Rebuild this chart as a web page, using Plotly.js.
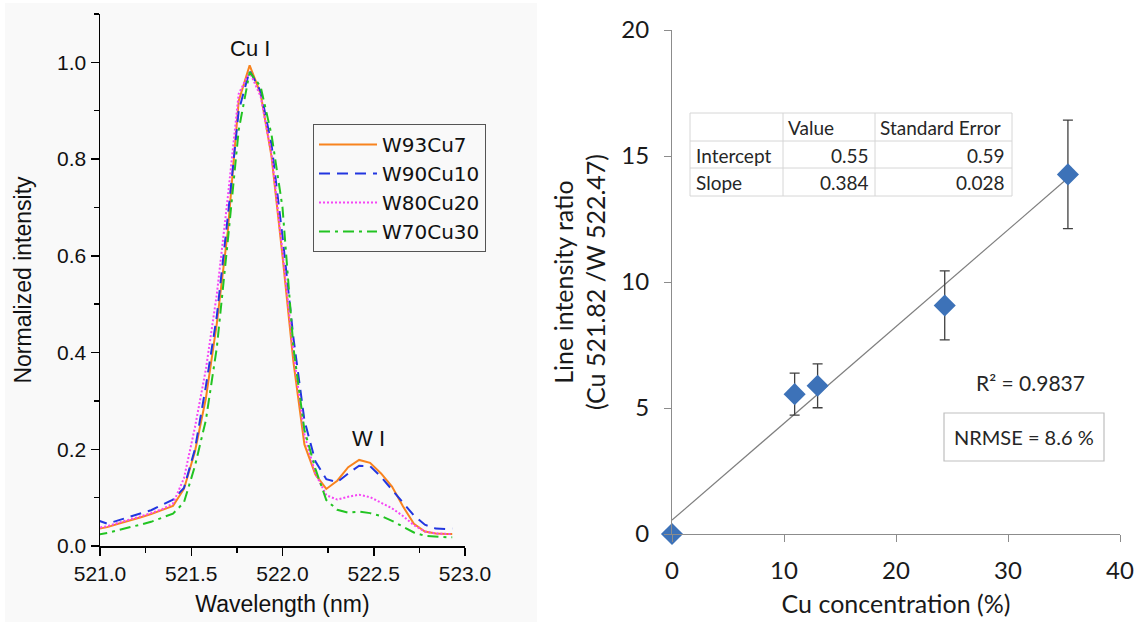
<!DOCTYPE html>
<html>
<head>
<meta charset="utf-8">
<script src="https://cdn.plot.ly/plotly-3.0.1.min.js"></script>
<style>html,body{margin:0;padding:0;background:#fff;}#chart{width:1138px;height:625px;}</style>
</head>
<body>
<div id="chart"></div>
<script>
// ---------- Left panel data (normalized spectra) ----------
const wavelength = [520.98, 521.04, 521.10, 521.16, 521.22, 521.28, 521.34, 521.40, 521.46, 521.52,
  521.58, 521.64, 521.70, 521.76, 521.82, 521.88, 521.94, 522.00, 522.06, 522.12,
  522.18, 522.24, 522.30, 522.36, 522.42, 522.48, 522.54, 522.60, 522.66, 522.72,
  522.78, 522.84, 522.90, 522.93];
const w93cu7 = [0.035, 0.039, 0.046, 0.052, 0.059, 0.066, 0.074, 0.083, 0.118, 0.195,
  0.305, 0.460, 0.650, 0.920, 0.994, 0.935, 0.805, 0.600, 0.380, 0.210,
  0.148, 0.118, 0.135, 0.163, 0.178, 0.172, 0.150, 0.123, 0.082, 0.046,
  0.030, 0.026, 0.025, 0.025];
const w90cu10 = [0.054, 0.046, 0.053, 0.060, 0.066, 0.074, 0.085, 0.096, 0.120, 0.200,
  0.330, 0.475, 0.680, 0.900, 0.983, 0.940, 0.830, 0.640, 0.430, 0.260,
  0.175, 0.138, 0.132, 0.150, 0.166, 0.165, 0.143, 0.117, 0.090, 0.063,
  0.044, 0.036, 0.035, 0.036];
const w80cu20 = [0.037, 0.041, 0.048, 0.054, 0.061, 0.068, 0.076, 0.088, 0.140, 0.245,
  0.365, 0.520, 0.720, 0.935, 0.980, 0.930, 0.810, 0.610, 0.400, 0.230,
  0.150, 0.105, 0.096, 0.102, 0.106, 0.101, 0.090, 0.078, 0.062, 0.043,
  0.030, 0.026, 0.025, 0.025];
const w70cu30 = [0.023, 0.027, 0.033, 0.038, 0.044, 0.050, 0.058, 0.067, 0.090, 0.165,
  0.260, 0.410, 0.630, 0.860, 0.980, 0.950, 0.850, 0.700, 0.410, 0.240,
  0.160, 0.095, 0.075, 0.069, 0.071, 0.068, 0.062, 0.052, 0.040, 0.028,
  0.021, 0.019, 0.018, 0.018];
const seriesNames = ['W93Cu7', 'W90Cu10', 'W80Cu20', 'W70Cu30'];
const peakLabels = ['Cu I', 'W I'];
const peakLabelX = [521.82, 522.47];
const peakLabelY = [1.0, 0.18];

// ---------- Right panel data (calibration) ----------
const cuConc = [0, 10.95, 13.0, 24.35, 35.35];
const ratio = [0, 5.55, 5.88, 9.07, 14.27];
const ratioErr = [0, 0.83, 0.87, 1.37, 2.15];
const fitParams = ['Intercept', 'Slope'];
const fitValue = [0.55, 0.384];
const fitStdErr = [0.59, 0.028];
const tableHeader = ['Value', 'Standard Error'];
const rSquared = 0.9837;
const nrmse = 8.6;

// ---------- helpers: pixel -> paper ----------
const W = 1138, H = 625;
const px = x => x / W;
const py = y => 1 - y / H;

const leftFont = 'Liberation Sans, Arial, sans-serif';
const legendFont = 'DejaVu Sans, sans-serif';
const rightFont = 'Lato, Open Sans, sans-serif';

const fitX = [Math.min(...cuConc), Math.max(...cuConc)];
const fitY = fitX.map(x => fitValue[0] + fitValue[1] * x);

const traces = [
  {x: wavelength, y: w93cu7, name: seriesNames[0], type: 'scatter', mode: 'lines', xaxis: 'x', yaxis: 'y',
   line: {color: '#f8831e', width: 2, dash: 'solid'}},
  {x: wavelength, y: w90cu10, name: seriesNames[1], type: 'scatter', mode: 'lines', xaxis: 'x', yaxis: 'y',
   line: {color: '#2236e0', width: 2, dash: '11px,7px'}},
  {x: wavelength, y: w80cu20, name: seriesNames[2], type: 'scatter', mode: 'lines', xaxis: 'x', yaxis: 'y',
   line: {color: '#f545f5', width: 2, dash: '2px,2px'}},
  {x: wavelength, y: w70cu30, name: seriesNames[3], type: 'scatter', mode: 'lines', xaxis: 'x', yaxis: 'y',
   line: {color: '#22c422', width: 2, dash: '11px,5px,3px,5px'}},
  {x: fitX, y: fitY, type: 'scatter', mode: 'lines', xaxis: 'x2', yaxis: 'y2', showlegend: false,
   line: {color: '#7f7f7f', width: 1.2}, hoverinfo: 'skip'},
  {x: cuConc, y: ratio, type: 'scatter', mode: 'markers', xaxis: 'x2', yaxis: 'y2', showlegend: false,
   cliponaxis: false,
   marker: {symbol: 'diamond', size: 17, color: '#3d72b8'},
   error_y: {type: 'data', array: ratioErr, visible: true, color: '#404040', thickness: 1.3, width: 5}}
];

const annotations = [];
peakLabels.forEach((t, i) => annotations.push({
  text: t, x: peakLabelX[i], y: peakLabelY[i], xref: 'x', yref: 'y', showarrow: false,
  yanchor: 'bottom', yshift: i === 0 ? -1 : 6, font: {family: leftFont, size: 22, color: '#111'}
}));

// table
const tL = 690, tR = 1012, tT = 113, tB = 196, r1 = 141, r2 = 168, c1 = 783, c2 = 875;
const rowY = [128, 155, 182];
const tfont = {family: rightFont, size: 19, color: '#262626'};
annotations.push({text: tableHeader[0], x: px(c1 + 3), y: py(rowY[0]), xref: 'paper', yref: 'paper', xanchor: 'left', yanchor: 'middle', showarrow: false, font: tfont});
annotations.push({text: tableHeader[1], x: px(c2 + 3), y: py(rowY[0]), xref: 'paper', yref: 'paper', xanchor: 'left', yanchor: 'middle', showarrow: false, font: tfont});
fitParams.forEach((p, i) => {
  annotations.push({text: p, x: px(tL + 4), y: py(rowY[i + 1]), xref: 'paper', yref: 'paper', xanchor: 'left', yanchor: 'middle', showarrow: false, font: tfont});
  annotations.push({text: String(fitValue[i]), x: px(c2 - 4), y: py(rowY[i + 1]), xref: 'paper', yref: 'paper', xanchor: 'right', yanchor: 'middle', showarrow: false, font: tfont});
  annotations.push({text: String(fitStdErr[i]), x: px(tR - 5), y: py(rowY[i + 1]), xref: 'paper', yref: 'paper', xanchor: 'right', yanchor: 'middle', showarrow: false, font: tfont});
});
annotations.push({text: 'R² = ' + rSquared, x: px(1030), y: py(382), xref: 'paper', yref: 'paper', xanchor: 'center', yanchor: 'middle', showarrow: false, font: {family: rightFont, size: 21, color: '#262626'}});
annotations.push({text: 'NRMSE = ' + nrmse + ' %', x: px(1024), y: py(437), xref: 'paper', yref: 'paper', xanchor: 'center', yanchor: 'middle', showarrow: false, font: {family: rightFont, size: 20, color: '#262626'}});

const gridLine = {color: '#d6d6d6', width: 1};
const shapes = [
  {type: 'rect', xref: 'paper', yref: 'paper', x0: px(5), x1: px(537), y0: py(622), y1: py(3), fillcolor: '#f9f9f9', line: {width: 0}, layer: 'below'},
  {type: 'rect', xref: 'paper', yref: 'paper', x0: px(tL), x1: px(tR), y0: py(tB), y1: py(tT), line: gridLine},
  {type: 'line', xref: 'paper', yref: 'paper', x0: px(tL), x1: px(tR), y0: py(r1), y1: py(r1), line: gridLine},
  {type: 'line', xref: 'paper', yref: 'paper', x0: px(tL), x1: px(tR), y0: py(r2), y1: py(r2), line: gridLine},
  {type: 'line', xref: 'paper', yref: 'paper', x0: px(c1), x1: px(c1), y0: py(tB), y1: py(tT), line: gridLine},
  {type: 'line', xref: 'paper', yref: 'paper', x0: px(c2), x1: px(c2), y0: py(tB), y1: py(tT), line: gridLine},
  {type: 'rect', xref: 'paper', yref: 'paper', x0: px(944), x1: px(1104), y0: py(461), y1: py(413), line: {color: '#bfbfbf', width: 1.2}}
];

const layout = {
  width: W, height: H,
  margin: {l: 0, r: 0, t: 0, b: 0},
  paper_bgcolor: '#ffffff', plot_bgcolor: 'rgba(0,0,0,0)',
  showlegend: true,
  legend: {x: px(313), y: py(124), xanchor: 'left', yanchor: 'top', bgcolor: 'rgba(0,0,0,0)',
    bordercolor: '#555', borderwidth: 1, font: {family: legendFont, size: 20, color: '#111'},
    tracegroupgap: 0, itemwidth: 58},
  xaxis: {domain: [px(100), px(465)], range: [521, 523], dtick: 0.5, tick0: 521, tickformat: '.1f',
    showline: true, linecolor: '#000', linewidth: 1.5, ticks: 'outside', ticklen: 8, tickwidth: 1.5, tickcolor: '#000',
    minor: {dtick: 0.25, ticks: 'outside', ticklen: 5, tickwidth: 1.5, tickcolor: '#000', showgrid: false},
    showgrid: false, zeroline: false, anchor: 'y',
    tickfont: {family: leftFont, size: 21, color: '#111'},
    title: {text: 'Wavelength (nm)', font: {family: leftFont, size: 23, color: '#111'}, standoff: 12}},
  yaxis: {domain: [py(546), py(14)], range: [0, 1.1], dtick: 0.2, tick0: 0, tickformat: '.1f',
    showline: true, linecolor: '#000', linewidth: 1.5, ticks: 'outside', ticklen: 8, tickwidth: 1.5, tickcolor: '#000',
    minor: {dtick: 0.1, ticks: 'outside', ticklen: 5, tickwidth: 1.5, tickcolor: '#000', showgrid: false},
    showgrid: false, zeroline: false, anchor: 'x',
    tickfont: {family: leftFont, size: 21, color: '#111'},
    title: {text: 'Normalized intensity', font: {family: leftFont, size: 23, color: '#111'}, standoff: 19}},
  xaxis2: {domain: [px(672), px(1120)], range: [0, 40], dtick: 10, tick0: 0,
    showline: true, linecolor: '#8c8c8c', linewidth: 1, ticks: 'outside', ticklen: 7, tickcolor: '#8c8c8c',
    showgrid: false, zeroline: false, anchor: 'y2', ticklabelstandoff: 8,
    tickfont: {family: rightFont, size: 24, color: '#1a1a1a'},
    title: {text: 'Cu concentration (%)', font: {family: rightFont, size: 25, color: '#1a1a1a'}, standoff: 12}},
  yaxis2: {domain: [py(534), py(30)], range: [0, 20], dtick: 5, tick0: 0,
    showline: true, linecolor: '#8c8c8c', linewidth: 1, ticks: 'outside', ticklen: 7, tickcolor: '#8c8c8c',
    showgrid: false, zeroline: false, anchor: 'x2', ticklabelstandoff: 10,
    tickfont: {family: rightFont, size: 24, color: '#1a1a1a'},
    title: {text: 'Line intensity ratio<br>(Cu 521.82 /W 522.47)', font: {family: rightFont, size: 25, color: '#1a1a1a'}, standoff: 8}},
  annotations: annotations,
  shapes: shapes
};

Plotly.newPlot('chart', traces, layout, {staticPlot: true, displayModeBar: false});
</script>
</body>
</html>
